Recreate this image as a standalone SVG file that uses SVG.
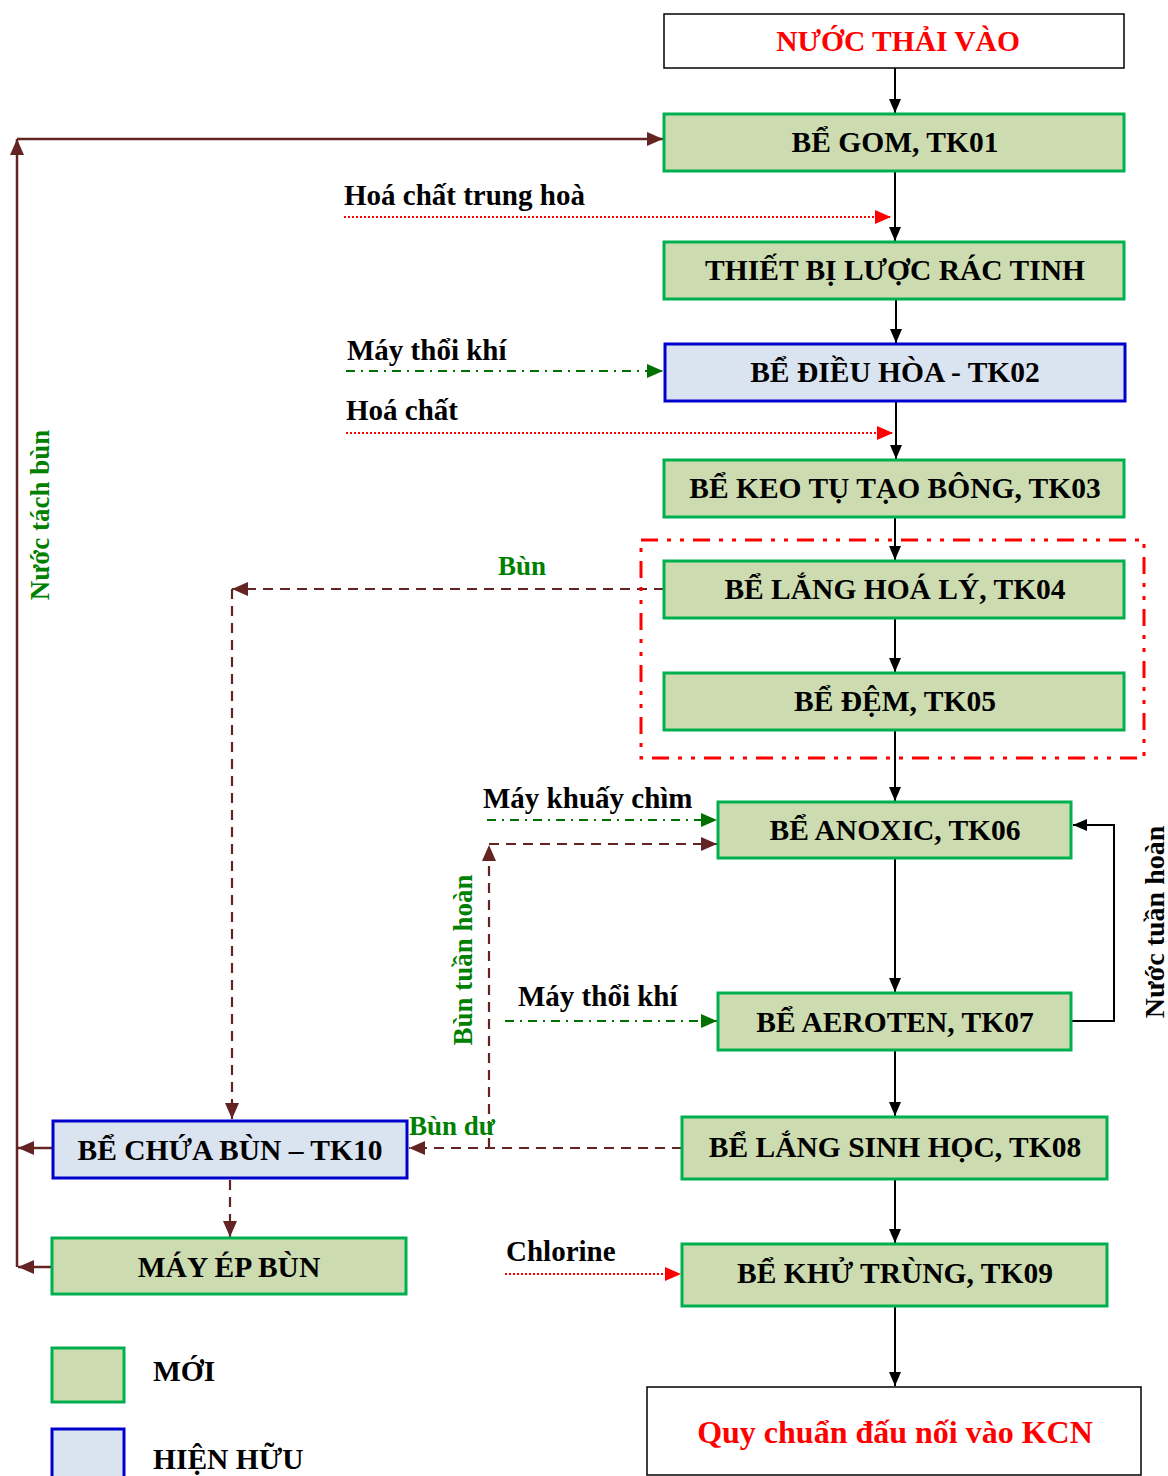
<svg xmlns="http://www.w3.org/2000/svg" width="1168" height="1476" viewBox="0 0 1168 1476">
<defs>
<style>
.t{font-family:"Liberation Serif","Times New Roman",serif;font-weight:bold;}
.box{font-size:29.5px;fill:#000;text-anchor:middle;}
.leg{font-size:29.5px;fill:#000;}
.new{fill:#cddcb0;stroke:#00b050;stroke-width:3;}
.old{fill:#dae3f0;stroke:#0000cc;stroke-width:3;}
.plain{fill:#fff;stroke:#000;stroke-width:1.5;}
.lbl{font-size:29px;fill:#000;}
.glbl{font-size:27px;fill:#008000;}
.blk{stroke:#000;stroke-width:2;fill:none;}
.brn{stroke:#632423;stroke-width:2.5;fill:none;}
.brnd{stroke:#632423;stroke-width:2.2;fill:none;stroke-dasharray:10,7;}
.red{stroke:#ff0000;stroke-width:2.2;fill:none;stroke-dasharray:2,2;}
.grn{stroke:#007000;stroke-width:2;fill:none;stroke-dasharray:9,6,2,6;}
</style>
<marker id="ab" markerWidth="14" markerHeight="12" refX="14" refY="6" orient="auto" markerUnits="userSpaceOnUse"><path d="M0,0 L14,6 L0,12 z" fill="#000"/></marker>
<marker id="abr" markerWidth="16" markerHeight="14" refX="16" refY="7" orient="auto" markerUnits="userSpaceOnUse"><path d="M0,0 L16,7 L0,14 z" fill="#632423"/></marker>
<marker id="ar" markerWidth="16" markerHeight="14" refX="16" refY="7" orient="auto" markerUnits="userSpaceOnUse"><path d="M0,0 L16,7 L0,14 z" fill="#ff0000"/></marker>
<marker id="ag" markerWidth="16" markerHeight="14" refX="16" refY="7" orient="auto" markerUnits="userSpaceOnUse"><path d="M0,0 L16,7 L0,14 z" fill="#007000"/></marker>
</defs>
<rect width="1168" height="1476" fill="#fff"/>

<g id="connectors">
<line class="blk" x1="895" y1="68" x2="895" y2="113" marker-end="url(#ab)"/>
<line class="blk" x1="895" y1="171" x2="895" y2="241" marker-end="url(#ab)"/>
<line class="blk" x1="896" y1="299" x2="896" y2="343" marker-end="url(#ab)"/>
<line class="blk" x1="896" y1="401" x2="896" y2="459" marker-end="url(#ab)"/>
<line class="blk" x1="895" y1="517" x2="895" y2="560" marker-end="url(#ab)"/>
<line class="blk" x1="895" y1="618" x2="895" y2="672" marker-end="url(#ab)"/>
<line class="blk" x1="895" y1="730" x2="895" y2="801" marker-end="url(#ab)"/>
<line class="blk" x1="895" y1="858" x2="895" y2="992" marker-end="url(#ab)"/>
<line class="blk" x1="895" y1="1050" x2="895" y2="1116" marker-end="url(#ab)"/>
<line class="blk" x1="895" y1="1179" x2="895" y2="1243" marker-end="url(#ab)"/>
<line class="blk" x1="895" y1="1306" x2="895" y2="1386" marker-end="url(#ab)"/>
<line class="red" x1="344" y1="217" x2="891" y2="217" marker-end="url(#ar)"/>
<line class="grn" x1="346" y1="371" x2="663" y2="371" marker-end="url(#ag)"/>
<line class="red" x1="346" y1="433" x2="893" y2="433" marker-end="url(#ar)"/>
<line class="grn" x1="487" y1="820" x2="717" y2="820" marker-end="url(#ag)"/>
<line class="grn" x1="505" y1="1021" x2="717" y2="1021" marker-end="url(#ag)"/>
<line class="red" x1="505" y1="1274" x2="681" y2="1274" marker-end="url(#ar)"/>
<path class="blk" d="M1071,1021 H1114 V825 H1073" marker-end="url(#ab)"/>
<line class="brnd" x1="664" y1="589" x2="232" y2="589" marker-end="url(#abr)"/>
<line class="brnd" x1="232" y1="589" x2="232" y2="1119" marker-end="url(#abr)"/>
<line class="brnd" x1="682" y1="1148" x2="409" y2="1148" marker-end="url(#abr)"/>
<line class="brnd" x1="489" y1="1148" x2="489" y2="845" marker-end="url(#abr)"/>
<line class="brnd" x1="489" y1="844" x2="717" y2="844" marker-end="url(#abr)"/>
<line class="brnd" x1="230" y1="1180" x2="230" y2="1237" marker-end="url(#abr)"/>
<line class="brn" x1="53" y1="1148" x2="18" y2="1148" marker-end="url(#abr)"/>
<line class="brn" x1="52" y1="1267" x2="18" y2="1267" marker-end="url(#abr)"/>
<line class="brn" x1="17" y1="1267" x2="17" y2="139" marker-end="url(#abr)"/>
<line class="brn" x1="17" y1="139" x2="663" y2="139" marker-end="url(#abr)"/>
<rect x="641" y="540" width="503" height="218" fill="none" stroke="#ff0000" stroke-width="3" stroke-dasharray="17,9,4,9,4,9"/>
</g>

<g id="labels" class="t">
<text class="lbl" x="344" y="205">Hoá chất trung hoà</text>
<text class="lbl" x="347" y="360">Máy thổi khí</text>
<text class="lbl" x="346" y="420">Hoá chất</text>
<text class="glbl" x="522" y="575" text-anchor="middle">Bùn</text>
<text class="lbl" x="483" y="808">Máy khuấy chìm</text>
<text class="lbl" x="518" y="1006">Máy thổi khí</text>
<text class="glbl" x="409" y="1135">Bùn dư</text>
<text class="lbl" x="506" y="1261">Chlorine</text>
<text class="glbl" transform="translate(49,515) rotate(-90)" text-anchor="middle">Nước tách bùn</text>
<text class="glbl" transform="translate(472,960) rotate(-90)" text-anchor="middle">Bùn tuần hoàn</text>
<text class="lbl" style="font-size:28px" transform="translate(1164,922) rotate(-90)" text-anchor="middle">Nước tuần hoàn</text>
</g>

<g id="n_input" class="t"><rect class="plain" x="664" y="14" width="460" height="54"/><text class="box" x="898" y="51" style="fill:#ff0000">NƯỚC THẢI VÀO</text></g>
<g id="n_tk01" class="t"><rect class="new" x="664" y="114" width="460" height="57"/><text class="box" x="895" y="152">BỂ GOM, TK01</text></g>
<g id="n_screen" class="t"><rect class="new" x="664" y="242" width="460" height="57"/><text class="box" x="895" y="280">THIẾT BỊ LƯỢC RÁC TINH</text></g>
<g id="n_tk02" class="t"><rect class="old" x="665" y="344" width="460" height="57"/><text class="box" x="895" y="382">BỂ ĐIỀU HÒA - TK02</text></g>
<g id="n_tk03" class="t"><rect class="new" x="664" y="460" width="460" height="57"/><text class="box" x="895" y="498">BỂ KEO TỤ TẠO BÔNG, TK03</text></g>
<g id="n_tk04" class="t"><rect class="new" x="664" y="561" width="460" height="57"/><text class="box" x="895" y="599">BỂ LẮNG HOÁ LÝ, TK04</text></g>
<g id="n_tk05" class="t"><rect class="new" x="664" y="673" width="460" height="57"/><text class="box" x="895" y="711">BỂ ĐỆM, TK05</text></g>
<g id="n_tk06" class="t"><rect class="new" x="718" y="802" width="353" height="56"/><text class="box" x="895" y="840">BỂ ANOXIC, TK06</text></g>
<g id="n_tk07" class="t"><rect class="new" x="718" y="993" width="353" height="57"/><text class="box" x="895" y="1032">BỂ AEROTEN, TK07</text></g>
<g id="n_tk08" class="t"><rect class="new" x="682" y="1117" width="425" height="62"/><text class="box" x="895" y="1157">BỂ LẮNG SINH HỌC, TK08</text></g>
<g id="n_tk09" class="t"><rect class="new" x="682" y="1244" width="425" height="62"/><text class="box" x="895" y="1283">BỂ KHỬ TRÙNG, TK09</text></g>
<g id="n_out" class="t"><rect class="plain" x="647" y="1387" width="494" height="88"/><text class="box" x="895" y="1443" style="fill:#ff0000;font-size:32px">Quy chuẩn đấu nối vào KCN</text></g>
<g id="n_tk10" class="t"><rect class="old" x="53" y="1121" width="354" height="57"/><text class="box" x="230" y="1160">BỂ CHỨA BÙN – TK10</text></g>
<g id="n_press" class="t"><rect class="new" x="52" y="1238" width="354" height="56"/><text class="box" x="229" y="1277">MÁY ÉP BÙN</text></g>

<g id="legend" class="t">
<rect class="new" x="52" y="1348" width="72" height="54"/>
<text class="leg" x="153" y="1381">MỚI</text>
<rect class="old" x="52" y="1429" width="72" height="52"/>
<text class="leg" x="153" y="1469">HIỆN HỮU</text>
</g>
</svg>
